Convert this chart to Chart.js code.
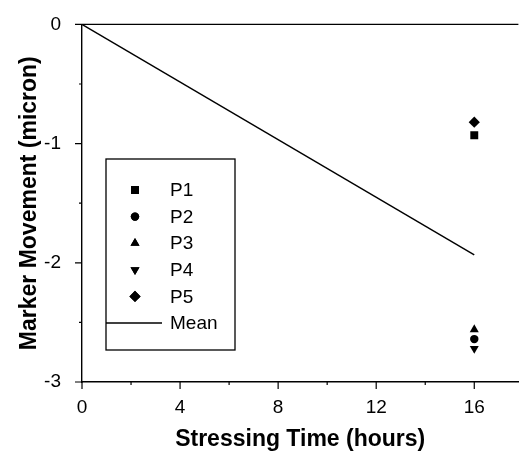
<!DOCTYPE html>
<html>
<head>
<meta charset="utf-8">
<script src="https://cdn.jsdelivr.net/npm/chart.js@4.4.1/dist/chart.umd.min.js"></script>
<style>
  html, body { margin: 0; padding: 0; background: #fff; }
  #wrap { width: 524px; height: 453px; }
</style>
</head>
<body>
<div id="wrap"><canvas id="myChart" width="524" height="453"></canvas></div>
<script>
// data
var seriesNames = ['P1', 'P2', 'P3', 'P4', 'P5'];
var stressTime = [16];
var p1Values = [-0.93];
var p2Values = [-2.64];
var p3Values = [-2.56];
var p4Values = [-2.72];
var p5Values = [-0.82];
var meanTime = [0, 16];
var meanValues = [0, -1.934];
var xTicks = [0, 4, 8, 12, 16];
var yTicks = [-3, -2, -1, 0];

var markerStyles = ['rect', 'circle', 'triangle', 'triangle', 'rectRot'];
var markerRadius = [5.6, 4.2, 5.2, 5.2, 5.6];
var markerRotation = [0, 0, 0, 180, 0];
var allValues = [p1Values, p2Values, p3Values, p4Values, p5Values];

function toPoints(xs, ys) {
  return ys.map(function (y, i) { return { x: xs[i], y: y }; });
}

var datasets = seriesNames.map(function (name, i) {
  return {
    label: name,
    data: toPoints([stressTime[0]], allValues[i]),
    showLine: false,
    pointStyle: markerStyles[i],
    pointRadius: markerRadius[i],
    pointRotation: markerRotation[i],
    backgroundColor: '#000',
    borderColor: '#000',
    borderWidth: 0
  };
});
datasets.push({
  label: 'Mean',
  data: toPoints(meanTime, meanValues),
  showLine: true,
  pointRadius: 0,
  borderColor: '#000',
  borderWidth: 1.4,
  backgroundColor: '#000'
});

var FONT = "'Liberation Sans', Arial, sans-serif";

// tick marks (major + minor) and top frame line
var axisDecor = {
  id: 'axisDecor',
  afterDraw: function (chart) {
    var ctx = chart.ctx;
    var area = chart.chartArea;
    var xs = chart.scales.x;
    var ys = chart.scales.y;
    ctx.save();
    ctx.strokeStyle = '#000';
    ctx.lineWidth = 1.4;
    ctx.beginPath();
    ctx.moveTo(area.left, area.top);
    ctx.lineTo(area.right, area.top);
    ctx.stroke();
    ctx.lineWidth = 1.2;
    ctx.beginPath();
    xs.ticks.forEach(function (t) {
      var px = xs.getPixelForValue(t.value);
      var len = xTicks.indexOf(t.value) >= 0 ? 7 : 3;
      ctx.moveTo(px, area.bottom);
      ctx.lineTo(px, area.bottom + len);
    });
    ys.ticks.forEach(function (t) {
      var py = ys.getPixelForValue(t.value);
      var len = yTicks.indexOf(t.value) >= 0 ? 7 : 3;
      ctx.moveTo(area.left, py);
      ctx.lineTo(area.left - len, py);
    });
    ctx.stroke();
    ctx.restore();
  }
};

// boxed legend inside the plot
var boxLegend = {
  id: 'boxLegend',
  afterDraw: function (chart) {
    var ctx = chart.ctx;
    var left = 106, top = 159, right = 235, bottom = 350;
    var rowY = 190, rowGap = 26.6;
    ctx.save();
    ctx.strokeStyle = '#000';
    ctx.lineWidth = 1.3;
    ctx.strokeRect(left, top, right - left, bottom - top);
    ctx.fillStyle = '#000';
    ctx.font = '19px ' + FONT;
    ctx.textBaseline = 'middle';
    chart.data.datasets.forEach(function (ds, i) {
      var y = rowY + i * rowGap;
      if (ds.showLine) {
        ctx.lineWidth = 1.4;
        ctx.beginPath();
        ctx.moveTo(left, y);
        ctx.lineTo(162, y);
        ctx.stroke();
      } else {
        Chart.helpers.drawPoint(ctx, {
          pointStyle: ds.pointStyle,
          radius: ds.pointRadius,
          rotation: ds.pointRotation,
          borderWidth: 0
        }, 135, y);
        ctx.fill();
      }
      ctx.fillText(ds.label, 170, y + 1);
    });
    ctx.restore();
  }
};

var ctx = document.getElementById('myChart').getContext('2d');
var myChart = new Chart(ctx, {
  type: 'scatter',
  data: { datasets: datasets },
  plugins: [axisDecor, boxLegend],
  options: {
    responsive: false,
    animation: false,
    layout: { padding: { top: 22, right: 1, left: 0, bottom: 0 } },
    scales: {
      x: {
        type: 'linear',
        min: 0,
        max: 17.8,
        afterFit: function (scale) { scale.height = 71; },
        grid: { display: false },
        border: { display: true, color: '#000', width: 1.4 },
        ticks: {
          stepSize: 2,
          includeBounds: false,
          autoSkip: false,
          maxRotation: 0,
          padding: 6,
          color: '#000',
          font: { family: FONT, size: 19 },
          callback: function (v) { return xTicks.indexOf(v) >= 0 ? String(v) : ''; }
        },
        title: {
          display: true,
          text: 'Stressing Time (hours)',
          color: '#000',
          font: { family: FONT, size: 23, weight: 'bold' },
          padding: { top: 0, bottom: 0 }
        }
      },
      y: {
        type: 'linear',
        min: -3,
        max: 0,
        afterFit: function (scale) { scale.width = 82; },
        grid: { display: false },
        border: { display: true, color: '#000', width: 1.4 },
        ticks: {
          stepSize: 0.5,
          autoSkip: false,
          padding: 13,
          color: '#000',
          font: { family: FONT, size: 19 },
          callback: function (v) { return yTicks.indexOf(v) >= 0 ? String(v) : ''; }
        },
        title: {
          display: true,
          text: 'Marker Movement (micron)',
          color: '#000',
          font: { family: FONT, size: 23, weight: 'bold' },
          padding: { top: 16, bottom: 0 }
        }
      }
    },
    plugins: {
      legend: { display: false },
      tooltip: { enabled: false }
    }
  }
});
</script>
</body>
</html>
